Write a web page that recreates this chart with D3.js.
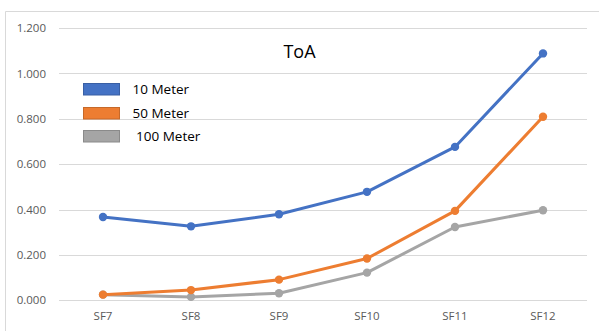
<!DOCTYPE html>
<html><head><meta charset="utf-8">
<script src="https://cdn.jsdelivr.net/npm/d3@7"></script>
<style>html,body{margin:0;padding:0;background:#fff;overflow:hidden}</style>
</head><body>
<svg id="c" width="599" height="331"></svg>
<script>
const categories = ["SF7","SF8","SF9","SF10","SF11","SF12"];
const seriesNames = ["10 Meter","50 Meter","100 Meter"];
const legendLabels = ["10 Meter","50 Meter"," 100 Meter"];
const values10 = [0.367,0.326,0.379,0.478,0.676,1.088];
const values50 = [0.025,0.045,0.091,0.184,0.394,0.809];
const values100 = [0.025,0.015,0.031,0.122,0.323,0.397];
const yTicks = [0,0.2,0.4,0.6,0.8,1.0,1.2];
const colors = ["#4472C4","#ED7D31","#A5A5A5"];
const title = "ToA";

const svg = d3.select("#c");
const font = "'Open Sans', 'Noto Sans', sans-serif";

// sheet frame
svg.append("line").attr("x1",5.5).attr("x2",599).attr("y1",11.5).attr("y2",11.5).attr("stroke","#d9d9d9").attr("stroke-width",1);
svg.append("line").attr("x1",5.5).attr("x2",5.5).attr("y1",11.5).attr("y2",331).attr("stroke","#d9d9d9").attr("stroke-width",1);

const x = d3.scaleBand().domain(categories).range([59,587]);
const y = d3.scaleLinear().domain([0,1.2]).range([300.3,28]);

// gridlines
svg.append("g").selectAll("line").data(yTicks).join("line")
  .attr("x1",59).attr("x2",587)
  .attr("y1",d=>Math.round(y(d))+0.5).attr("y2",d=>Math.round(y(d))+0.5)
  .attr("stroke","#d9d9d9").attr("stroke-width",1);

// y axis labels
const yAxis = d3.axisLeft(y).tickValues(yTicks).tickFormat(d3.format(".3f")).tickSize(0).tickPadding(0);
const ya = svg.append("g").attr("transform","translate(46,0)").call(yAxis);
ya.select(".domain").remove();
ya.selectAll("text").attr("fill","#595959").style("font-size","11.5px").style("font-family",font);

// x axis labels
const xAxis = d3.axisBottom(x).tickSize(0).tickPadding(0);
const xa = svg.append("g").attr("transform","translate(0,312)").call(xAxis);
xa.select(".domain").remove();
xa.selectAll("text").attr("fill","#595959").style("font-size","11.5px").style("font-family",font);

// series
const series = [values10, values50, values100];
const line = d3.line().x((d,i)=>x(categories[i])+x.bandwidth()/2).y(d=>y(d));
const order = [2,1,0];
order.forEach(si=>{
  const g = svg.append("g");
  g.append("path").datum(series[si]).attr("d",line).attr("fill","none")
    .attr("stroke",colors[si]).attr("stroke-width",3).attr("stroke-linejoin","round").attr("stroke-linecap","round");
  g.selectAll("circle").data(series[si]).join("circle")
    .attr("cx",(d,i)=>x(categories[i])+x.bandwidth()/2).attr("cy",d=>y(d)).attr("r",4.2)
    .attr("fill",colors[si]);
});

// title
svg.append("text").attr("x",299.5).attr("y",58).attr("text-anchor","middle")
  .style("font-family",font).style("font-size","18px").attr("fill","#000").text(title);

// legend
const legY = [83,107,130];
const leg = svg.append("g");
seriesNames.forEach((n,i)=>{
  leg.append("rect").attr("x",83.5).attr("y",legY[i]+0.5).attr("width",36).attr("height",11.5)
    .attr("fill",colors[i]).attr("stroke",d3.color(colors[i]).darker(0.5)).attr("stroke-width",1);
  leg.append("text").attr("x",132.5).attr("y",legY[i]+10.5)
    .style("font-family",font).style("font-size","13.5px").attr("fill","#000")
    .attr("xml:space","preserve").style("white-space","pre").text(legendLabels[i]);
});
</script>
</body></html>
